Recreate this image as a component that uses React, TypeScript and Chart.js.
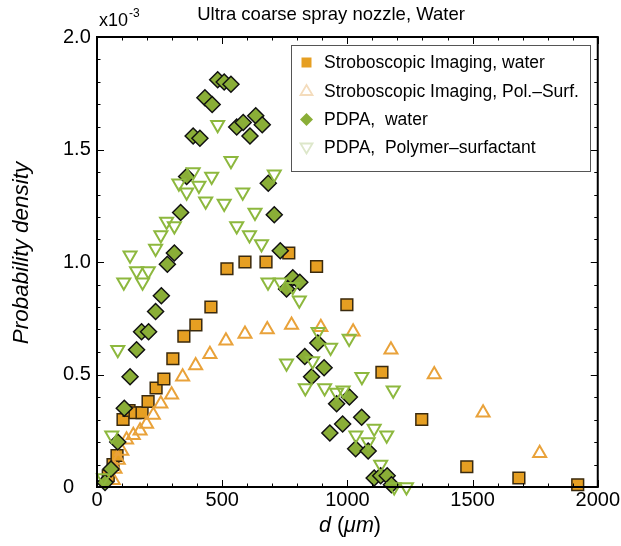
import React, { useEffect, useRef } from 'react';
import { Chart, registerables } from 'chart.js';

Chart.register(...registerables);

const FONT = '"Liberation Sans", Arial, Helvetica, sans-serif';

const chartTitle = 'Ultra coarse spray nozzle, Water';
const xTitleParts = [
  { t: 'd', italic: true },
  { t: ' (', italic: false },
  { t: '\u03bcm', italic: true },
  { t: ')', italic: false },
];
const yTitle = 'Probability density';
const yScaleNote = 'x10';
const yScaleExp = '-3';

const seriesLabels = [
  'Stroboscopic Imaging, water',
  'Stroboscopic Imaging, Pol.\u2013Surf.',
  'PDPA,  water',
  'PDPA,  Polymer\u2013surfactant',
];

const xMajorTicks = [0, 500, 1000, 1500, 2000];
const yMajorTicks = [0, 0.5, 1.0, 1.5, 2.0];
const xMinorStep = 100;
const yMinorStep = 0.1;

// Stroboscopic imaging, water (orange squares)
const strobeWaterD = [45, 64, 80, 104, 128, 152, 180, 204, 236, 267, 303, 347, 395, 455, 519, 591, 675, 766, 877, 998, 1138, 1297, 1477, 1685, 1920];
const strobeWaterP = [0.05, 0.10, 0.14, 0.30, 0.34, 0.33, 0.33, 0.38, 0.44, 0.48, 0.57, 0.67, 0.72, 0.80, 0.97, 1.00, 1.00, 1.04, 0.98, 0.81, 0.51, 0.30, 0.09, 0.04, 0.01];

// Stroboscopic imaging, polymer-surfactant (orange open triangles)
const strobePolD = [65, 72, 85, 99, 118, 145, 172, 198, 225, 255, 298, 342, 394, 451, 515, 591, 680, 777, 894, 1023, 1174, 1347, 1542, 1768];
const strobePolP = [0.03, 0.08, 0.12, 0.16, 0.21, 0.23, 0.25, 0.28, 0.32, 0.37, 0.41, 0.49, 0.54, 0.59, 0.65, 0.68, 0.70, 0.72, 0.71, 0.69, 0.61, 0.50, 0.33, 0.15];

// PDPA, water (green diamonds)
const pdpaWaterD = [32, 56, 83, 109, 132, 158, 178, 206, 234, 257, 281, 309, 334, 358, 384, 411, 431, 460, 482, 508, 535, 558, 584, 611, 634, 660, 684, 708, 732, 757, 782, 810, 830, 857, 882, 907, 930, 957, 981, 1008, 1033, 1057, 1083, 1107, 1133, 1159, 1176];
const pdpaWaterP = [0.02, 0.08, 0.20, 0.35, 0.49, 0.61, 0.69, 0.69, 0.78, 0.85, 0.99, 1.04, 1.22, 1.38, 1.56, 1.55, 1.73, 1.70, 1.81, 1.80, 1.79, 1.60, 1.62, 1.56, 1.65, 1.61, 1.35, 1.21, 1.05, 0.88, 0.93, 0.91, 0.58, 0.49, 0.64, 0.53, 0.24, 0.37, 0.28, 0.40, 0.17, 0.31, 0.16, 0.04, 0.05, 0.05, 0.01];

// PDPA, polymer-surfactant (green open down triangles)
const pdpaPolD = [26, 59, 83, 107, 132, 158, 182, 205, 234, 255, 278, 309, 327, 358, 384, 407, 434, 458, 482, 508, 535, 558, 582, 609, 631, 657, 683, 708, 733, 757, 782, 808, 832, 861, 883, 909, 933, 957, 983, 1007, 1034, 1058, 1083, 1107, 1133, 1157, 1183, 1187, 1236];
const pdpaPolP = [0.04, 0.23, 0.61, 0.91, 1.03, 0.96, 0.91, 0.96, 1.06, 1.12, 1.18, 1.16, 1.35, 1.31, 1.40, 1.34, 1.27, 1.38, 1.61, 1.26, 1.45, 1.16, 1.31, 1.12, 1.22, 1.08, 0.91, 1.39, 0.91, 0.55, 0.89, 0.83, 0.44, 0.56, 0.69, 0.44, 0.62, 0.42, 0.43, 0.66, 0.23, 0.49, 0.20, 0.26, 0.10, 0.23, 0.43, 0.00, 0.00];

const ORANGE = '#E69F22';
const ORANGE_LINE = '#E9A23A';
const GREEN = '#8AAE37';
const GREEN_LINE = '#8DB83E';

const pts = (d: number[], p: number[]) => d.map((x, i) => ({ x, y: p[i] }));

const legendMarkers = [
  { kind: 'square', fill: ORANGE, stroke: null },
  { kind: 'up', fill: null, stroke: '#F4DCBC' },
  { kind: 'diamond', fill: GREEN, stroke: null },
  { kind: 'down', fill: null, stroke: '#DDE7CA' },
];

const decorPlugin = {
  id: 'decor',
  afterDatasetsDraw(chart: any) {
    const { ctx, chartArea: a, scales } = chart;
    const x = scales.x;
    const y = scales.y;
    ctx.save();
    ctx.strokeStyle = '#000';
    ctx.lineWidth = 1;
    ctx.beginPath();
    for (let v = xMajorTicks[0]; v <= xMajorTicks[xMajorTicks.length - 1] + 1e-9; v += xMinorStep) {
      const px = Math.round(x.getPixelForValue(v)) + 0.5;
      const major = xMajorTicks.some((t) => Math.abs(t - v) < 1e-6);
      const len = major ? 7 : 3.5;
      ctx.moveTo(px, a.bottom);
      ctx.lineTo(px, a.bottom - len);
      ctx.moveTo(px, a.top);
      ctx.lineTo(px, a.top + len);
    }
    for (let i = 0; i <= 20; i++) {
      const v = i * yMinorStep;
      const py = Math.round(y.getPixelForValue(v)) + 0.5;
      const major = yMajorTicks.some((t) => Math.abs(t - v) < 1e-6);
      const len = major ? 7 : 3.5;
      ctx.moveTo(a.left, py);
      ctx.lineTo(a.left + len, py);
      ctx.moveTo(a.right, py);
      ctx.lineTo(a.right - len, py);
    }
    ctx.stroke();
    ctx.lineWidth = 2;
    ctx.strokeRect(a.left, a.top, a.right - a.left, a.bottom - a.top);
    ctx.restore();
  },
  afterDraw(chart: any) {
    const { ctx, chartArea: a } = chart;
    ctx.save();
    ctx.fillStyle = '#000';
    // title
    ctx.font = `18.5px ${FONT}`;
    ctx.textAlign = 'center';
    ctx.textBaseline = 'middle';
    ctx.fillText(chartTitle, 331, 15);
    // x10^-3
    ctx.textAlign = 'left';
    ctx.textBaseline = 'alphabetic';
    ctx.font = `18px ${FONT}`;
    ctx.fillText(yScaleNote, 99, 26);
    const w = ctx.measureText(yScaleNote).width;
    ctx.font = `12px ${FONT}`;
    ctx.fillText(yScaleExp, 99 + w + 1, 17);
    // y title
    ctx.save();
    ctx.translate(22, 253);
    ctx.rotate(-Math.PI / 2);
    ctx.font = `italic 22.5px ${FONT}`;
    ctx.textAlign = 'center';
    ctx.textBaseline = 'middle';
    ctx.fillText(yTitle, 0, 0);
    ctx.restore();
    // x title
    let total = 0;
    const fonts = xTitleParts.map((p) => `${p.italic ? 'italic ' : ''}21.5px ${FONT}`);
    xTitleParts.forEach((p, i) => {
      ctx.font = fonts[i];
      total += ctx.measureText(p.t).width;
    });
    let cx = 350 - total / 2;
    ctx.textBaseline = 'middle';
    ctx.textAlign = 'left';
    xTitleParts.forEach((p, i) => {
      ctx.font = fonts[i];
      ctx.fillText(p.t, cx, 526);
      cx += ctx.measureText(p.t).width;
    });
    // legend
    const L = 291, T = 45, R = 590, B = 171;
    ctx.fillStyle = '#fff';
    ctx.fillRect(L, T, R - L, B - T);
    ctx.strokeStyle = '#555';
    ctx.lineWidth = 1;
    ctx.strokeRect(L + 0.5, T + 0.5, R - L, B - T);
    const rows = [62.5, 91, 119.5, 147.5];
    const mx = 306.5;
    legendMarkers.forEach((m, i) => {
      const cy = rows[i];
      ctx.beginPath();
      if (m.kind === 'square') {
        ctx.rect(mx - 5, cy - 5, 10, 10);
      } else if (m.kind === 'diamond') {
        ctx.moveTo(mx - 6.5, cy);
        ctx.lineTo(mx, cy - 6.5);
        ctx.lineTo(mx + 6.5, cy);
        ctx.lineTo(mx, cy + 6.5);
        ctx.closePath();
      } else if (m.kind === 'up') {
        ctx.moveTo(mx, cy - 6);
        ctx.lineTo(mx + 6, cy + 4);
        ctx.lineTo(mx - 6, cy + 4);
        ctx.closePath();
      } else {
        ctx.moveTo(mx, cy + 6);
        ctx.lineTo(mx + 6, cy - 4);
        ctx.lineTo(mx - 6, cy - 4);
        ctx.closePath();
      }
      if (m.fill) {
        ctx.fillStyle = m.fill;
        ctx.fill();
      }
      if (m.stroke) {
        ctx.strokeStyle = m.stroke;
        ctx.lineWidth = 1.8;
        ctx.stroke();
      }
      ctx.fillStyle = '#000';
      ctx.font = `17.5px ${FONT}`;
      ctx.textAlign = 'left';
      ctx.textBaseline = 'middle';
      ctx.fillText(chart.data.datasets[i].label, 324, cy + 1);
    });
    ctx.restore();
  },
};

export default function App() {
  const ref = useRef<HTMLCanvasElement | null>(null);
  useEffect(() => {
    if (!ref.current) return;
    const chart = new Chart(ref.current, {
      type: 'scatter',
      data: {
        datasets: [
          {
            label: seriesLabels[0],
            data: pts(strobeWaterD, strobeWaterP),
            pointStyle: 'rect',
            pointRadius: 8.3,
            backgroundColor: ORANGE,
            borderColor: '#3a2a0e',
            borderWidth: 1.5,
            order: 4,
            clip: false,
          },
          {
            label: seriesLabels[1],
            data: pts(strobePolD, strobePolP),
            pointStyle: 'triangle',
            pointRadius: 7.5,
            backgroundColor: 'rgba(255,255,255,0)',
            borderColor: ORANGE_LINE,
            borderWidth: 2,
            order: 3,
            clip: false,
          },
          {
            label: seriesLabels[2],
            data: pts(pdpaWaterD, pdpaWaterP),
            pointStyle: 'rectRot',
            pointRadius: 8,
            backgroundColor: GREEN,
            borderColor: '#111',
            borderWidth: 1.5,
            order: 2,
            clip: false,
          },
          {
            label: seriesLabels[3],
            data: pts(pdpaPolD, pdpaPolP),
            pointStyle: 'triangle',
            rotation: 180,
            pointRadius: 7.5,
            backgroundColor: 'rgba(255,255,255,0)',
            borderColor: GREEN_LINE,
            borderWidth: 2,
            order: 1,
            clip: false,
          },
        ] as any,
      },
      options: {
        responsive: false,
        animation: false,
        events: [],
        layout: { padding: { left: 63, right: 23, top: 37, bottom: 0 } },
        plugins: { legend: { display: false }, tooltip: { enabled: false }, title: { display: false } },
        scales: {
          x: {
            type: 'linear',
            min: 0,
            max: 2000,
            afterBuildTicks: (s: any) => {
              s.ticks = xMajorTicks.map((v) => ({ value: v }));
            },
            ticks: {
              font: { family: FONT, size: 20 },
              color: '#000',
              padding: 1,
              maxRotation: 0,
              callback: (v: any) => String(Number(v)),
            },
            grid: { display: false, drawTicks: false },
            border: { display: false },
            afterFit: (s: any) => {
              s.height = 59;
            },
          },
          y: {
            type: 'linear',
            min: 0,
            max: 2,
            afterBuildTicks: (s: any) => {
              s.ticks = yMajorTicks.map((v) => ({ value: v }));
            },
            ticks: {
              font: { family: FONT, size: 20 },
              color: '#000',
              crossAlign: 'far',
              padding: 0,
              callback: (v: any) => (Number(v) === 0 ? '0' : Number(v).toFixed(1)),
            },
            grid: { display: false, drawTicks: false },
            border: { display: false },
            afterFit: (s: any) => {
              s.width = 34;
            },
          },
        },
      } as any,
      plugins: [decorPlugin],
    });
    return () => chart.destroy();
  }, []);
  return (
    <div style={{ position: 'fixed', left: 0, top: 0, width: 621, height: 546, background: '#fff' }}>
      <canvas ref={ref} width={621} height={546} style={{ width: 621, height: 546 }} />
    </div>
  );
}
